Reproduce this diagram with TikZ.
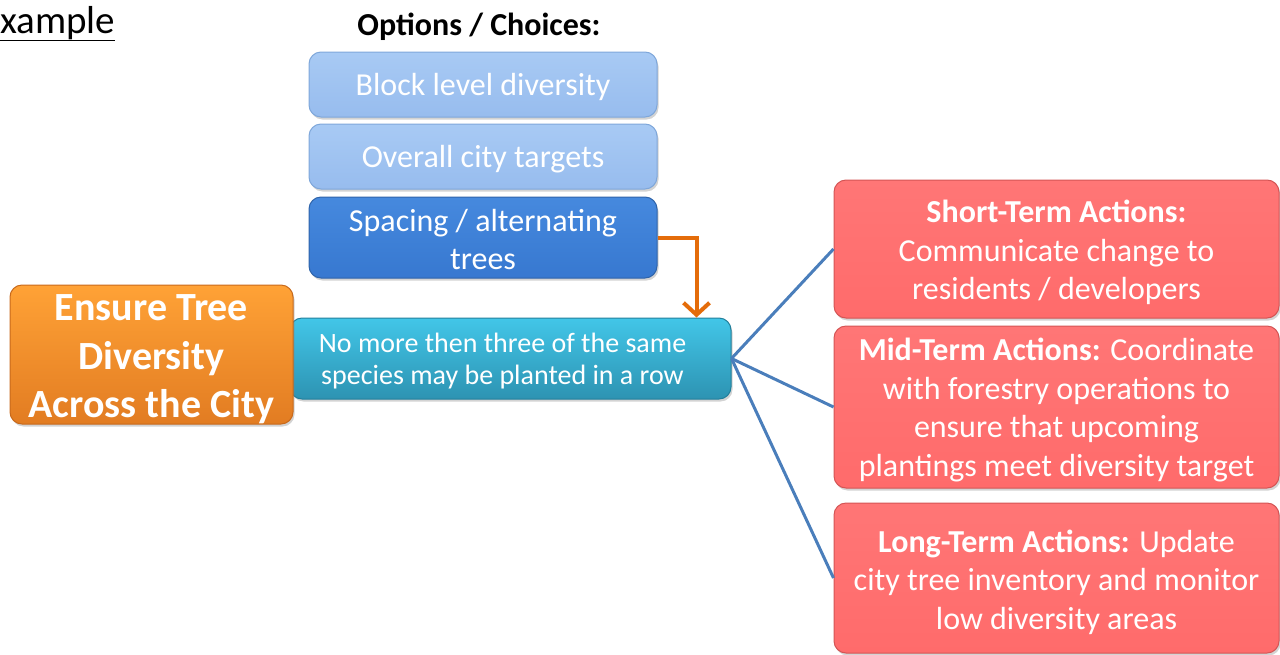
\documentclass[tikz,border=0pt]{standalone}
\usepackage{fontspec}
\setmainfont{Carlito}
\usetikzlibrary{arrows.meta,shadows}
\definecolor{lblue}{HTML}{97BCEE}
\definecolor{lbluetop}{HTML}{A8CAF4}
\definecolor{lblueedge}{HTML}{7FA7DA}
\definecolor{mblue}{HTML}{3778D0}
\definecolor{mbluetop}{HTML}{4689DE}
\definecolor{mblueedge}{HTML}{2F64AA}
\definecolor{orgtop}{HTML}{FFA236}
\definecolor{orgbot}{HTML}{E27C22}
\definecolor{orgedge}{HTML}{C86A1C}
\definecolor{cyantop}{HTML}{42C6E8}
\definecolor{cyanbot}{HTML}{2D93B2}
\definecolor{cyanedge}{HTML}{23809C}
\definecolor{coral}{HTML}{FF6B6B}
\definecolor{coraltop}{HTML}{FF7676}
\definecolor{coraledge}{HTML}{D45555}
\definecolor{arrowor}{HTML}{E46C0A}
\definecolor{linkblue}{HTML}{4A7EBB}
\begin{document}
\begin{tikzpicture}[x=1pt,y=-1pt,
  base/.style={rounded corners=12pt, inner sep=0pt, line width=1pt,
    drop shadow={shadow xshift=1.5pt, shadow yshift=-2.5pt, opacity=0.35}},
  optlight/.style={base, top color=lbluetop, bottom color=lblue, draw=lblueedge,
    minimum width=348pt, minimum height=65pt},
  optdark/.style={base, top color=mbluetop, bottom color=mblue, draw=mblueedge,
    minimum width=348pt, minimum height=81pt},
  goalbox/.style={base, top color=orgtop, bottom color=orgbot, draw=orgedge,
    minimum width=283pt, minimum height=139pt},
  rulebox/.style={base, top color=cyantop, bottom color=cyanbot, draw=cyanedge,
    minimum width=441pt, minimum height=81pt},
  actbox/.style={base, top color=coraltop, bottom color=coral, draw=coraledge,
    minimum width=445pt},
  txt/.style={align=center, text=white, inner sep=0pt},
  opttxt/.style={txt, font=\fontsize{32}{38}\selectfont},
  goaltxt/.style={txt, font=\bfseries\fontsize{40}{48.5}\selectfont},
  ruletxt/.style={txt, font=\fontsize{28}{32}\selectfont},
  acttxt/.style={txt, font=\fontsize{32}{38.5}\selectfont},
  link/.style={draw=linkblue, line width=3pt},
  orarrow/.style={draw=arrowor, line width=4pt, -{Straight Barb[length=12pt,width=26pt,line width=4pt]}}
]
\useasboundingbox (0,0) rectangle (1280,654);

% title fragment
\node[anchor=base west, font=\fontsize{39}{44}\selectfont, inner sep=0pt] (ex) at (0,33) {\underline{xample}};

% options
\node[font=\bfseries\fontsize{32}{36}\selectfont, inner sep=0pt] (opt) at (479,27) {Options / Choices:};
\node[optlight] (b1) at (483,84.5) {};
\node[opttxt] (b1t) at ([yshift=-2.5pt]b1.center) {Block level diversity};
\node[optlight] (b2) at (483,156.5) {};
\node[opttxt] (b2t) at ([yshift=-2.5pt]b2.center) {Overall city targets};
\node[optdark] (sp) at (483,237.5) {};
\node[opttxt] (spt) at ([yshift=-2pt]sp.center) {Spacing / alternating\\trees};

% rule and goal
\node[rulebox] (rule) at (510.5,358.5) {};
\node[ruletxt] (rulet) at ([xshift=-8pt,yshift=-3pt]rule.center) {No more then three of the same\\species may be planted in a row};
\node[goalbox] (goal) at (151.5,354.5) {};
\node[goaltxt] (goalt) at ([yshift=-5pt]goal.center) {Ensure Tree\\Diversity\\Across the City};

% actions
\node[actbox, minimum height=138pt] (st) at (1056.5,249) {};
\node[acttxt] (stt) at ([yshift=-3.5pt]st.center) {\textbf{Short-Term Actions:}\\Communicate change to\\residents / developers};
\node[actbox, minimum height=162pt] (mt) at (1056.5,407) {};
\node[acttxt] (mtt) at ([yshift=-3pt]mt.center) {\textbf{Mid-Term Actions:} Coordinate\\with forestry operations to\\ensure that upcoming\\plantings meet diversity target};
\node[actbox, minimum height=150pt] (lt) at (1056.5,578) {};
\node[acttxt] (ltt) at ([yshift=-4pt]lt.center) {\textbf{Long-Term Actions:} Update\\city tree inventory and monitor\\low diversity areas};

% connectors
\draw[orarrow] (sp.east) -| ([xshift=-35pt]rule.north east);
\draw[link] (rule.east) -- (st.west);
\draw[link] (rule.east) -- (mt.west);
\draw[link] (rule.east) -- (lt.west);
\end{tikzpicture}
\end{document}
